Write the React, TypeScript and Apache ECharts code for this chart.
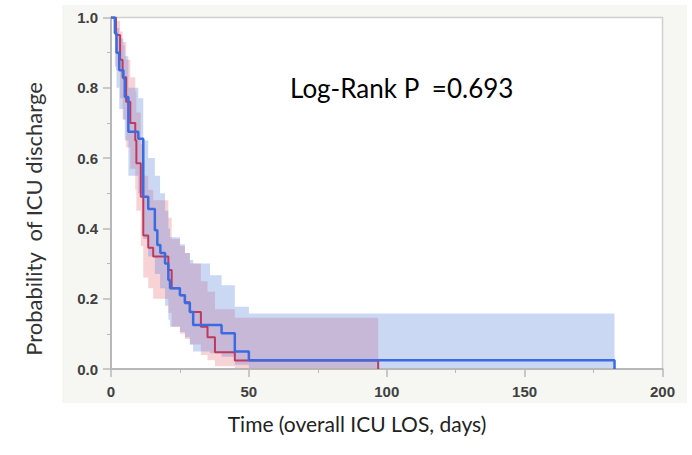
import React, { useEffect, useRef } from "react";
import * as echarts from "echarts";

// Blue group: Kaplan-Meier steps (time in days, probability after step)
const blueT = [0, 1.4, 2, 3, 4.5, 5, 6.3, 9.9, 11.7, 13.5, 15.9, 16.8, 17.9, 19.6, 20.8, 21.4, 25, 26.8, 28.6, 29.8, 40.1, 44.9, 50, 182.6];
const blueS = [1, 0.955, 0.9, 0.85, 0.827, 0.774, 0.675, 0.655, 0.49, 0.455, 0.395, 0.353, 0.33, 0.3, 0.253, 0.23, 0.21, 0.188, 0.162, 0.125, 0.102, 0.05, 0.025, 0];
// Blue confidence band (interval i spans bandT[i]..bandT[i+1])
const blueBandT = [0, 1.4, 2, 3, 4.5, 5, 6.3, 9.9, 11.7, 13.5, 15.9, 17.8, 19.6, 20.8, 21.4, 25, 26.8, 28.6, 29.8, 35.9, 40.1, 44.9, 50, 182.6];
const blueUp = [1, 0.99, 0.97, 0.94, 0.92, 0.89, 0.8, 0.77, 0.65, 0.6, 0.55, 0.5, 0.45, 0.4, 0.375, 0.355, 0.33, 0.31, 0.3, 0.267, 0.238, 0.177, 0.158];
const blueLo = [1, 0.86, 0.8, 0.74, 0.71, 0.65, 0.55, 0.5, 0.37, 0.32, 0.27, 0.23, 0.18, 0.14, 0.12, 0.105, 0.09, 0.07, 0.05, 0.045, 0.035, 0.012, 0.003];

// Red group
const redT = [0, 1.8, 3.3, 4.2, 5.5, 7, 8.8, 9.2, 10.8, 11.7, 13.5, 15.3, 20.8, 22, 25, 26.8, 28.6, 32.6, 35, 37.7, 44.9, 96.9];
const redS = [1, 0.95, 0.88, 0.83, 0.76, 0.7, 0.65, 0.585, 0.49, 0.38, 0.345, 0.32, 0.282, 0.23, 0.21, 0.19, 0.162, 0.12, 0.09, 0.048, 0.024, 0];
const redBandT = redT;
const redUp = [1, 0.99, 0.96, 0.93, 0.88, 0.83, 0.79, 0.73, 0.64, 0.55, 0.51, 0.48, 0.43, 0.37, 0.35, 0.33, 0.3, 0.25, 0.22, 0.17, 0.146];
const redLo = [1, 0.85, 0.77, 0.71, 0.63, 0.57, 0.51, 0.45, 0.35, 0.26, 0.23, 0.2, 0.16, 0.12, 0.1, 0.085, 0.07, 0.04, 0.025, 0.008, 0.002];

const xTicks = [0, 50, 100, 150, 200];
const yTicks = [0, 0.2, 0.4, 0.6, 0.8, 1.0];
const annotation = "Log-Rank P\u00a0\u00a0=0.693";
const xTitle = "Time (overall ICU LOS, days)";
const yTitle = "Probability\u00a0\u00a0of ICU discharge";

function bandSeries(T: number[], U: number[], L: number[], fill: string) {
  return {
    type: "custom",
    silent: true,
    clip: true,
    z: 1,
    data: [[0, 0]],
    renderItem: (_params: any, api: any) => {
      const pts: number[][] = [];
      for (let i = 0; i < U.length; i++) {
        pts.push(api.coord([T[i], U[i]]));
        pts.push(api.coord([T[i + 1], U[i]]));
      }
      for (let i = L.length - 1; i >= 0; i--) {
        pts.push(api.coord([T[i + 1], L[i]]));
        pts.push(api.coord([T[i], L[i]]));
      }
      return { type: "polygon", shape: { points: pts }, style: { fill } };
    },
  };
}

function stepData(T: number[], S: number[]) {
  return T.map((t, i) => [t, S[i]]);
}

export default function App() {
  const ref = useRef<HTMLDivElement>(null);
  useEffect(() => {
    document.body.style.margin = "0";
    const chart = echarts.init(ref.current!, undefined, { renderer: "svg" });
    const axisGray = "#b8b8b8";
    const labelStyle = { color: "#404040", fontSize: 15, fontWeight: "bold" as const, fontFamily: "Liberation Sans" };
    chart.setOption({
      animation: false,
      grid: {
        left: 111, top: 17.5, right: 29.5, bottom: 86,
        show: true, backgroundColor: "#ffffff", borderColor: "#d0d0d0", borderWidth: 1.5,
      },
      xAxis: {
        type: "value", min: xTicks[0], max: xTicks[xTicks.length - 1], interval: 50,
        axisLine: { show: true, lineStyle: { color: axisGray, width: 2 } },
        axisTick: { show: true, length: 8, lineStyle: { color: axisGray, width: 1.5 } },
        minorTick: { show: true, splitNumber: 2, length: 4, lineStyle: { color: axisGray } },
        splitLine: { show: false },
        axisLabel: { ...labelStyle, margin: 15 },
      },
      yAxis: {
        type: "value", min: yTicks[0], max: yTicks[yTicks.length - 1], interval: 0.2,
        axisLine: { show: true, lineStyle: { color: axisGray, width: 2 } },
        axisTick: { show: true, length: 8, lineStyle: { color: axisGray, width: 1.5 } },
        minorTick: { show: true, splitNumber: 2, length: 4, lineStyle: { color: axisGray } },
        splitLine: { show: false },
        axisLabel: { ...labelStyle, margin: 13, formatter: (v: number) => v.toFixed(1) },
      },
      graphic: [
        { type: "rect", z: -10, shape: { x: 62, y: 5, width: 625, height: 398 }, style: { fill: "#f6f6f2" } },
        {
          type: "text", x: 290, y: 88, z: 10,
          style: { text: annotation, fill: "#000", fontSize: 26, fontFamily: "Lato", verticalAlign: "middle", textAlign: "left" },
        },
        {
          type: "text", x: 357, y: 423, z: 10,
          style: { text: xTitle, fill: "#222", fontSize: 21, fontFamily: "Lato", verticalAlign: "middle", textAlign: "center" },
        },
        {
          type: "text", x: 33, y: 219, rotation: Math.PI / 2, z: 10,
          style: { text: yTitle, fill: "#333", fontSize: 22, fontFamily: "Lato", verticalAlign: "middle", textAlign: "center" },
        },
      ],
      series: [
        bandSeries(redBandT, redUp, redLo, "rgba(235,120,130,0.33)"),
        bandSeries(blueBandT, blueUp, blueLo, "rgba(70,115,215,0.28)"),
        {
          type: "line", step: "end", showSymbol: false, silent: true, z: 3,
          data: stepData(redT, redS),
          lineStyle: { color: "#c0395c", width: 2 },
        },
        {
          type: "line", step: "end", showSymbol: false, silent: true, z: 4,
          data: stepData(blueT, blueS),
          lineStyle: { color: "#3b6be0", width: 2.5 },
        },
      ],
    });
    return () => chart.dispose();
  }, []);
  return <div ref={ref} style={{ width: 692, height: 455 }} />;
}
